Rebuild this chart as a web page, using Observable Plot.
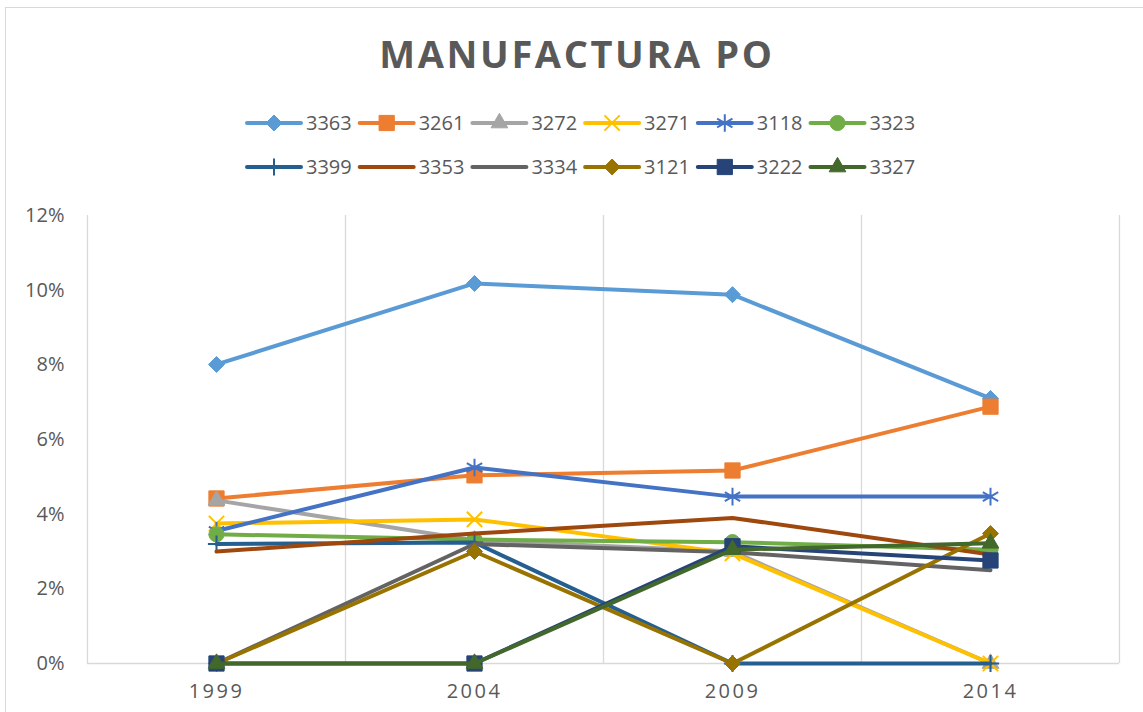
<!DOCTYPE html>
<html>
<head>
<meta charset="utf-8">
<script src="https://cdn.jsdelivr.net/npm/d3@7"></script>
<script src="https://cdn.jsdelivr.net/npm/@observablehq/plot@0.6"></script>
<style>
  body { margin: 0; background: #fff; font-family: "Open Sans", sans-serif; }
  #wrap { position: relative; width: 1143px; height: 712px; overflow: hidden; background: #fff; }
  #border { position: absolute; left: 5px; top: 7px; width: 1300px; height: 900px;
            border-left: 1.5px solid #d9d9d9; border-top: 1.5px solid #d9d9d9; pointer-events: none; }
  #head, #chart { position: relative; display: block; }
</style>
</head>
<body>
<div id="wrap">
  <div id="border"></div>
  <div id="head"></div>
  <div id="chart"></div>
</div>
<script>
// ---- data ----
const years = [1999, 2004, 2009, 2014];
const seriesNames = ["3363", "3261", "3272", "3271", "3118", "3323", "3399", "3353", "3334", "3121", "3222", "3327"];
const seriesColors = ["#5B9BD5", "#ED7D31", "#A5A5A5", "#FFC000", "#4472C4", "#70AD47", "#255E91", "#9E480E", "#636363", "#997300", "#264478", "#43682B"];
const seriesSymbols = ["diamond2", "square", "triangle", "times", "asterisk", "circle", "plus", null, null, "diamond2", "square", "triangle"];
const v3363 = [0.0801, 0.1018, 0.0988, 0.0710];
const v3261 = [0.0442, 0.0504, 0.0517, 0.0688];
const v3272 = [0.0437, 0.0330, 0.0300, 0.0000];
const v3271 = [0.0375, 0.0386, 0.0295, 0.0000];
const v3118 = [0.0355, 0.0525, 0.0447, 0.0447];
const v3323 = [0.0346, 0.0332, 0.0325, 0.0305];
const v3399 = [0.0320, 0.0324, 0.0000, 0.0000];
const v3353 = [0.0300, 0.0348, 0.0390, 0.0292];
const v3334 = [0.0000, 0.0320, 0.0298, 0.0250];
const v3121 = [0.0000, 0.0300, 0.0000, 0.0348];
const v3222 = [0.0000, 0.0000, 0.0314, 0.0276];
const v3327 = [0.0000, 0.0000, 0.0305, 0.0322];
const seriesValues = [v3363, v3261, v3272, v3271, v3118, v3323, v3399, v3353, v3334, v3121, v3222, v3327];
const yTicks = [0, 0.02, 0.04, 0.06, 0.08, 0.10, 0.12];
const titleText = "MANUFACTURA PO";

// ---- styling helpers ----
const TEXT = "#595959";
const GRID = "#d9d9d9";
const symbolR = {diamond2: 7.2, square: 8.6, triangle: 6.2, times: 7, asterisk: 8.4, circle: 7.6, plus: 5.6};
const strokeOnly = new Set(["times", "asterisk", "plus"]);

// ---- header: title + legend ----
const head = d3.select("#head").append("svg").attr("width", 1143).attr("height", 195)
  .style("display", "block").style("font-family", "'Open Sans', sans-serif");
head.append("text").attr("x", 577).attr("y", 68).attr("text-anchor", "middle")
  .attr("font-size", 38).attr("font-weight", 700).attr("letter-spacing", "2.6px")
  .attr("fill", TEXT).text(titleText);

const symbolMap = {diamond2: d3.symbolDiamond2, square: d3.symbolSquare, triangle: d3.symbolTriangle,
  times: d3.symbolTimes, asterisk: d3.symbolAsterisk, circle: d3.symbolCircle, plus: d3.symbolPlus};
seriesNames.forEach((name, i) => {
  const row = Math.floor(i / 6), col = i % 6;
  const x0 = 247 + col * 112.7, cy = 123 + row * 44;
  const g = head.append("g");
  g.append("line").attr("x1", x0).attr("x2", x0 + 54).attr("y1", cy).attr("y2", cy)
    .attr("stroke", seriesColors[i]).attr("stroke-width", 4).attr("stroke-linecap", "round");
  const s = seriesSymbols[i];
  if (s) {
    const r = symbolR[s];
    const p = g.append("path").attr("transform", `translate(${x0 + 27},${cy})`)
      .attr("d", d3.symbol(symbolMap[s], Math.PI * r * r)());
    if (strokeOnly.has(s)) p.attr("fill", "none").attr("stroke", seriesColors[i]).attr("stroke-width", 2);
    else p.attr("fill", seriesColors[i]).attr("stroke", seriesColors[i]).attr("stroke-width", 1);
  }
  g.append("text").attr("x", x0 + 59).attr("y", cy).attr("dy", "0.36em")
    .attr("font-size", 20).attr("fill", TEXT).text(name);
});

// ---- chart ----
const rows = seriesNames.map((name, i) => years.map((year, j) => ({series: name, year, value: seriesValues[i][j]})));
const bounds = [...years.map(y => y - 2.5), years[years.length - 1] + 2.5];

const seriesMarks = [];
seriesNames.forEach((name, i) => {
  const c = seriesColors[i];
  seriesMarks.push(Plot.line(rows[i], {x: "year", y: "value", stroke: c, strokeWidth: 4,
    strokeLinejoin: "round", strokeLinecap: "round"}));
  const s = seriesSymbols[i];
  if (s) {
    seriesMarks.push(Plot.dot(rows[i], strokeOnly.has(s)
      ? {x: "year", y: "value", symbol: s, r: symbolR[s], stroke: c, strokeWidth: 2, fill: "none"}
      : {x: "year", y: "value", symbol: s, r: symbolR[s], fill: c, stroke: c, strokeWidth: 1}));
  }
});

const plot = Plot.plot({
  width: 1143,
  height: 517,
  marginLeft: 87,
  marginRight: 24,
  marginTop: 20,
  marginBottom: 49,
  x: {domain: [bounds[0], bounds[bounds.length - 1]]},
  y: {domain: [0, 0.12]},
  style: {fontFamily: "'Open Sans', sans-serif", fontSize: "20px", color: TEXT, background: "transparent", overflow: "visible"},
  marks: [
    Plot.ruleX(bounds, {stroke: GRID, strokeWidth: 1.3}),
    Plot.ruleY([0], {stroke: GRID, strokeWidth: 1.3}),
    Plot.axisY({ticks: yTicks, tickFormat: d3.format(".0%"), tickSize: 0, tickPadding: 23, label: null, fill: TEXT}),
    Plot.axisX({ticks: years, tickFormat: d => String(d), tickSize: 0, tickPadding: 20, label: null, fill: TEXT}),
    ...seriesMarks
  ]
});
d3.select(plot).selectAll('g[aria-label="x-axis tick label"] text').attr("letter-spacing", "2.5px");
document.getElementById("chart").appendChild(plot);
</script>
</body>
</html>
